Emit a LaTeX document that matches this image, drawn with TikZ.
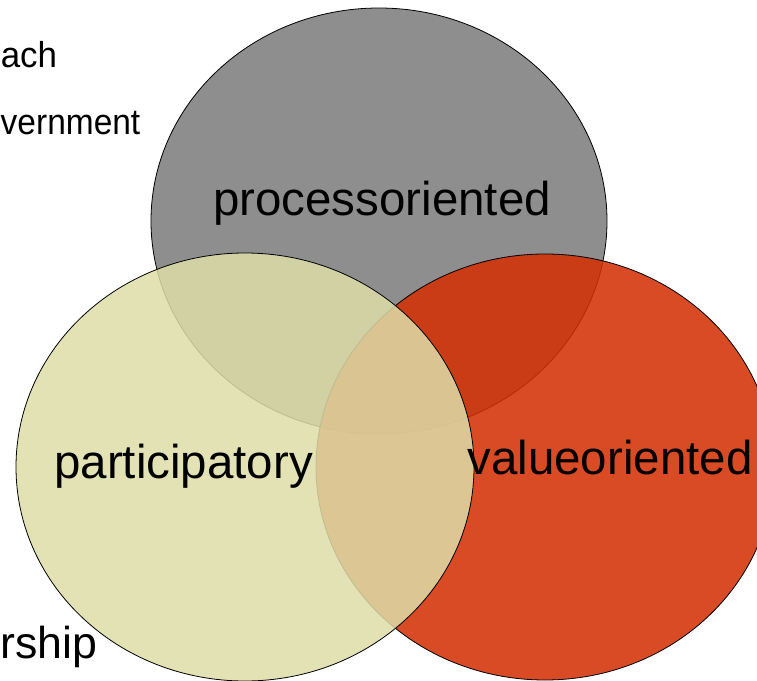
\documentclass[tikz,border=0pt]{standalone}
\usepackage{fontspec}
\setmainfont{Liberation Sans}
\begin{document}
\begin{tikzpicture}[x=0.75pt,y=-0.75pt,
  blob/.style={draw=black,line width=0.6pt},
  big/.style={font=\fontsize{35.6}{40}\selectfont,inner sep=0pt,anchor=base},
  side/.style={font=\fontsize{27}{31}\selectfont,inner sep=0pt,anchor=base west}]
\useasboundingbox (0,0) rectangle (757,681);
\definecolor{grayfill}{RGB}{142,142,142}
\definecolor{redfill}{RGB}{210,48,4}
\definecolor{yelfill}{RGB}{221,221,168}
% side texts (partial words at the left edge)
\node[side,xscale=0.97] (t1) at (0.5,68) {ach};
\node[side,xscale=0.93] (t2) at (0.5,135) {vernment};
\node[side,font=\fontsize{33.5}{38}\selectfont] (t3) at (0.5,658) {rship};
% circles
\fill[grayfill] (379,221) ellipse [x radius=171pt, y radius=159.75pt];
\draw[blob] (379,221) ellipse [x radius=171pt, y radius=159.75pt];
\fill[redfill,fill opacity=0.87] (545,467) ellipse [x radius=171.75pt, y radius=159.75pt];
\draw[blob] (545,467) ellipse [x radius=171.75pt, y radius=159.75pt];
\fill[yelfill,fill opacity=0.85] (245,467) ellipse [x radius=171.75pt, y radius=160.5pt];
\draw[blob] (245,467) ellipse [x radius=171.75pt, y radius=160.5pt];
% labels
\node[big] (p) at (382,216) {processoriented};
\node[big] (q) at (183.5,478) {participatory};
\node[big] (v) at (610,474) {valueoriented};
\end{tikzpicture}
\end{document}
